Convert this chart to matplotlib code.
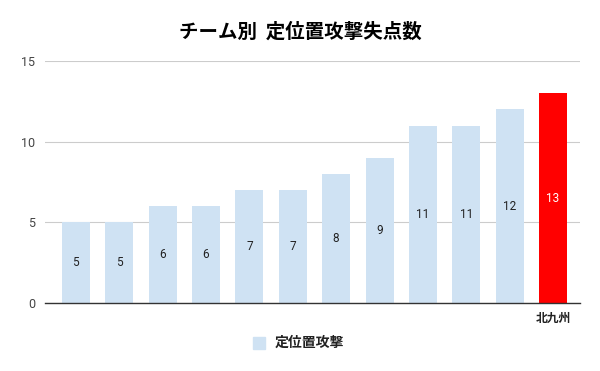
import matplotlib
matplotlib.use("Agg")
import matplotlib.pyplot as plt

plt.rcParams['font.family'] = ['Roboto', 'Noto Sans CJK JP', 'DejaVu Sans']

title = "チーム別  定位置攻撃失点数"
series_name = "定位置攻撃"
categories = ["", "", "", "", "", "", "", "", "", "", "", "北九州"]
values = [5, 5, 6, 6, 7, 7, 8, 9, 11, 11, 12, 13]
highlight = "北九州"
yticks = [0, 5, 10, 15]

fig = plt.figure(figsize=(6, 3.71), dpi=100)
ax = fig.add_axes([45/600, 1-303/371, (580-45)/600, (303-61)/371])

colors = ["#ff0000" if c == highlight else "#cfe2f3" for c in categories]
x = list(range(len(values)))
bars = ax.bar(x, values, width=0.645, color=colors, zorder=2)

for xi, v, c in zip(x, values, categories):
    ax.text(xi, v/2, str(v), ha='center', va='center', fontsize=8.5,
            color='white' if c == highlight else '#222222', zorder=3)

ax.set_xlim(-0.71, 11.62)
ax.set_ylim(0, 15)
ax.set_yticks(yticks)
ax.set_yticklabels([str(t) for t in yticks], fontsize=9, color='#444444')
ax.set_xticks(x)
ax.set_xticklabels(categories, fontsize=8.5, fontweight='bold',
                   family=['Noto Sans CJK JP', 'DejaVu Sans'], color='#222222')
ax.tick_params(axis='both', length=0, pad=6)
ax.tick_params(axis='y', pad=7)
ax.grid(axis='y', color='#cccccc', linewidth=0.8, zorder=0)
for s in ['top', 'right', 'left']:
    ax.spines[s].set_visible(False)
ax.spines['bottom'].set_color('#333333')
ax.spines['bottom'].set_linewidth(1.0)
ax.spines['bottom'].set_zorder(4)

fig.text(0.5, 1-32/371, title, ha='center', va='center', fontsize=14,
         fontweight='bold', family=['Noto Sans CJK JP', 'DejaVu Sans'])

from matplotlib.patches import Rectangle
fig.patches.append(Rectangle((253/600, 1-349/371), 12/600, 12/371,
                             transform=fig.transFigure, color='#cfe2f3', figure=fig))
fig.text(275/600, 1-343/371, series_name, ha='left', va='center', fontsize=10,
         fontweight='bold', family=['Noto Sans CJK JP', 'DejaVu Sans'], color='#222222')

fig.savefig("out.png", dpi=100)
